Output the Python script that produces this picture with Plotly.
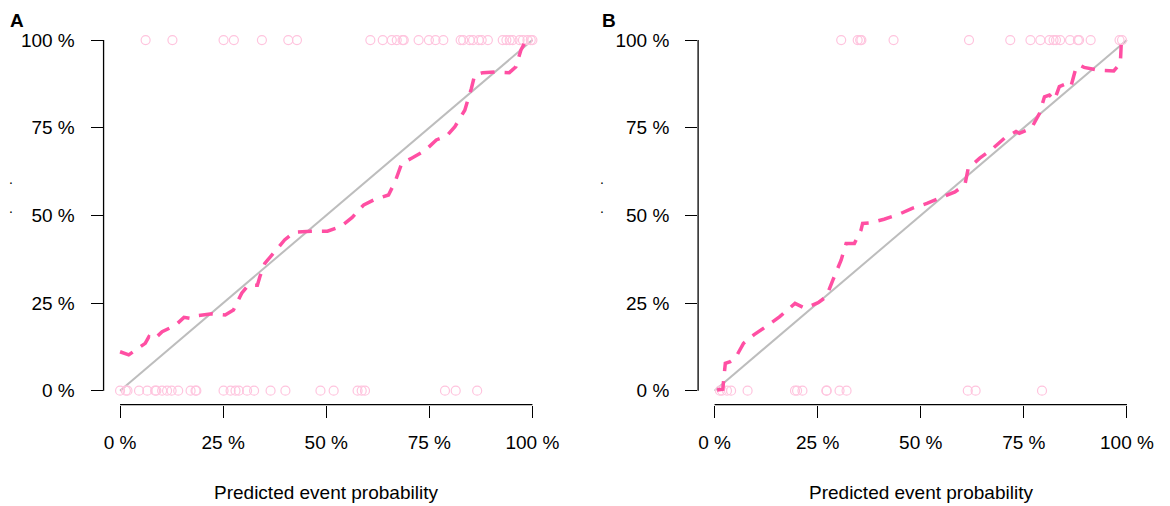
import plotly.graph_objects as go

# panel A : observed outcome rug (events at 1, non-events at 0)
a_events = [0.062, 0.127, 0.251, 0.276, 0.344, 0.408, 0.429, 0.607, 0.637, 0.659,
            0.671, 0.685, 0.688, 0.724, 0.749, 0.765, 0.784, 0.826, 0.832, 0.848,
            0.856, 0.870, 0.877, 0.892, 0.928, 0.937, 0.945, 0.952, 0.969, 0.977,
            0.988, 0.996, 1.0]
a_nonevents = [0.0, 0.014, 0.018, 0.046, 0.066, 0.085, 0.088, 0.102, 0.114, 0.125,
               0.141, 0.171, 0.183, 0.185, 0.251, 0.268, 0.280, 0.288, 0.308, 0.325,
               0.365, 0.401, 0.486, 0.518, 0.576, 0.586, 0.594, 0.788, 0.814, 0.866]
# panel A : calibration curve
a_curve_x = [0.0, 0.021, 0.061, 0.070, 0.082, 0.102, 0.135, 0.155, 0.171, 0.187,
             0.223, 0.255, 0.275, 0.295, 0.311, 0.333, 0.339, 0.351, 0.375, 0.399,
             0.423, 0.463, 0.503, 0.535, 0.563, 0.591, 0.619, 0.651, 0.667, 0.683,
             0.707, 0.739, 0.767, 0.792, 0.812, 0.836, 0.852, 0.860, 0.880, 0.912,
             0.944, 0.960, 0.972, 0.984, 1.0]
a_curve_y = [0.111, 0.102, 0.135, 0.154, 0.146, 0.168, 0.187, 0.209, 0.206, 0.214,
             0.219, 0.216, 0.230, 0.278, 0.301, 0.301, 0.325, 0.363, 0.396, 0.430,
             0.452, 0.455, 0.455, 0.468, 0.494, 0.530, 0.546, 0.558, 0.596, 0.648,
             0.663, 0.684, 0.715, 0.726, 0.753, 0.800, 0.862, 0.900, 0.907, 0.909,
             0.907, 0.924, 0.971, 0.998, 1.0]

# panel B
b_events = [0.307, 0.347, 0.353, 0.356, 0.434, 0.617, 0.717, 0.766, 0.790, 0.812,
            0.822, 0.828, 0.838, 0.862, 0.881, 0.884, 0.912, 0.982, 0.988]
b_nonevents = [0.013, 0.018, 0.030, 0.040, 0.080, 0.195, 0.200, 0.213, 0.271, 0.272,
               0.303, 0.320, 0.614, 0.633, 0.794]
b_curve_x = [0.006, 0.020, 0.022, 0.026, 0.038, 0.050, 0.070, 0.095, 0.126, 0.158,
             0.195, 0.219, 0.251, 0.271, 0.287, 0.307, 0.319, 0.339, 0.355, 0.359,
             0.379, 0.411, 0.447, 0.479, 0.515, 0.547, 0.583, 0.607, 0.615, 0.643,
             0.675, 0.703, 0.731, 0.739, 0.768, 0.788, 0.800, 0.812, 0.824, 0.836,
             0.852, 0.864, 0.876, 0.884, 0.896, 0.932, 0.968, 0.984, 0.986]
b_curve_y = [0.002, 0.004, 0.031, 0.078, 0.083, 0.092, 0.135, 0.159, 0.184, 0.211,
             0.249, 0.235, 0.251, 0.268, 0.316, 0.373, 0.420, 0.420, 0.458, 0.477,
             0.479, 0.489, 0.503, 0.520, 0.534, 0.549, 0.567, 0.587, 0.634, 0.663,
             0.691, 0.720, 0.739, 0.734, 0.748, 0.791, 0.838, 0.843, 0.829, 0.867,
             0.875, 0.867, 0.919, 0.929, 0.922, 0.914, 0.912, 0.934, 0.986]

tick_vals = [0, 0.25, 0.5, 0.75, 1]
tick_text = ["0 %", "25 %", "50 %", "75 %", "100 %"]

CIRCLE = "rgb(255,196,222)"
CURVE = "#ff4fa3"
DIAG = "#bdbdbd"
FONT = "Liberation Sans, Arial, sans-serif"

# page body has an 8px margin, figure starts at (8, 8) and fills the rest of the window
OFF = 8
W, H = 1170 - OFF, 506 - OFF

def px(x):
    return (x - OFF) / W

def py(y):
    return 1 - (y - OFF) / H

fig = go.Figure()

panels = [
    ("x", "y", a_events, a_nonevents, a_curve_x, a_curve_y),
    ("x2", "y2", b_events, b_nonevents, b_curve_x, b_curve_y),
]
for xa, ya, ev, nev, cx, cy in panels:
    fig.add_trace(go.Scatter(x=[0, 1], y=[0, 1], xaxis=xa, yaxis=ya, mode="lines",
                             line=dict(color=DIAG, width=2), showlegend=False))
    fig.add_trace(go.Scatter(x=ev + nev, y=[1] * len(ev) + [0] * len(nev),
                             xaxis=xa, yaxis=ya, mode="markers",
                             marker=dict(symbol="circle-open", size=9, color=CIRCLE,
                                         line=dict(width=1.2)),
                             showlegend=False))
    fig.add_trace(go.Scatter(x=cx, y=cy, xaxis=xa, yaxis=ya, mode="lines",
                             line=dict(color=CURVE, width=3.5, dash="14px,10px"),
                             showlegend=False))

ydom = [py(404.7), py(26)]
axis_common = dict(range=[-0.04, 1.04], tickvals=tick_vals, ticktext=tick_text,
                   ticks="outside", ticklen=12, tickwidth=1.3, tickcolor="black",
                   showgrid=False, zeroline=False, showline=False,
                   tickfont=dict(family=FONT, size=19, color="black"))

fig.update_layout(
    width=W, height=H,
    margin=dict(l=0, r=0, t=0, b=0),
    paper_bgcolor="white", plot_bgcolor="white",
    xaxis=dict(domain=[px(104.4), px(553.6)], anchor="y", ticklabelstandoff=8, **axis_common),
    yaxis=dict(domain=ydom, anchor="x", ticklabelstandoff=12, **axis_common),
    xaxis2=dict(domain=[px(704.1), px(1153.3)], anchor="y2", ticklabelstandoff=8, **axis_common),
    yaxis2=dict(domain=ydom, anchor="x2", ticklabelstandoff=12, **axis_common),
)

# R-style axis lines that only run from first to last tick
for xa, ya in [("x", "y"), ("x2", "y2")]:
    xd = fig.layout[xa.replace("x", "xaxis")].domain
    fig.add_shape(type="line", xref=xa, yref="paper", x0=0, x1=1, y0=ydom[0], y1=ydom[0],
                  line=dict(color="black", width=1.3))
    fig.add_shape(type="line", xref="paper", yref=ya, x0=xd[0], x1=xd[0], y0=0, y1=1,
                  line=dict(color="black", width=1.3))

ann = []
for xa, letter, lx, dx in [("x", "A", 8, 7), ("x2", "B", 605, 607)]:
    ann.append(dict(text="Predicted event probability", xref=xa, yref="paper",
                    x=0.5, y=py(492), showarrow=False, yanchor="middle",
                    font=dict(family=FONT, size=19, color="black")))
    ann.append(dict(text="<b>%s</b>" % letter, xref="paper", yref="paper",
                    x=px(lx), y=1, xanchor="left", yanchor="top",
                    showarrow=False, font=dict(family=FONT, size=19, color="black")))
    for dy in [183, 212]:
        ann.append(dict(text=".", xref="paper", yref="paper", x=px(dx),
                        y=py(dy) + 0.008, showarrow=False,
                        font=dict(family=FONT, size=14, color="black")))
fig.update_layout(annotations=ann)

fig.write_html("out.html")
